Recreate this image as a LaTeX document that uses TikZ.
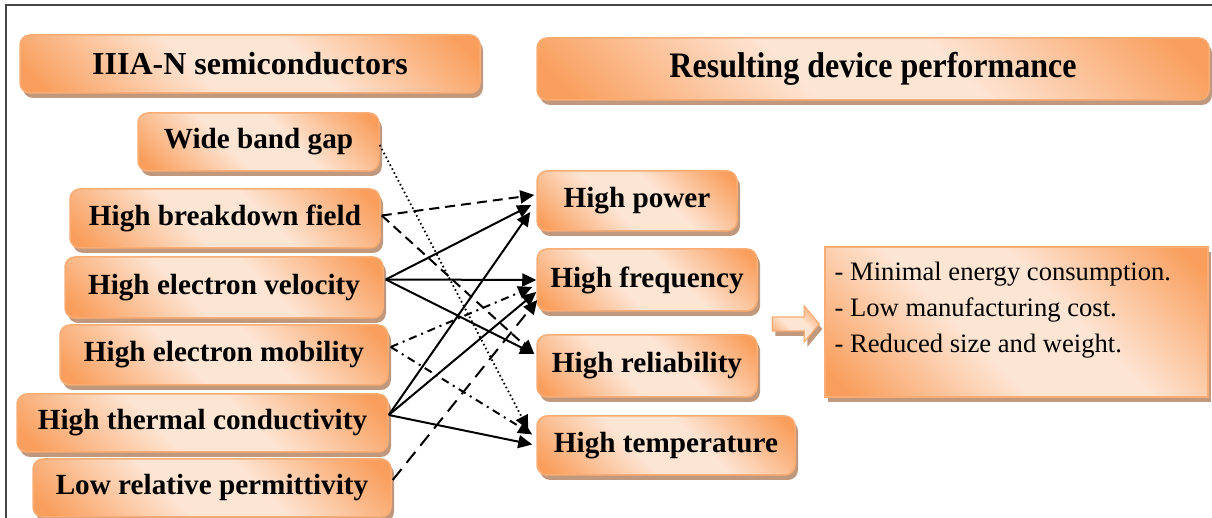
\documentclass[tikz,border=0pt]{standalone}
\usepackage{fontspec}
\setmainfont{Liberation Serif}
\usetikzlibrary{arrows.meta,shadows,calc}

\definecolor{orng}{RGB}{249,158,92}
\definecolor{lite}{RGB}{253,229,212}
\definecolor{bordc}{RGB}{249,172,115}
\definecolor{shadc}{RGB}{192,152,125}
\definecolor{framec}{RGB}{70,70,70}

% diagonal peach gradient: orange corners, pale middle band
\pgfdeclarehorizontalshading{peach}{100bp}{color(0bp)=(orng); color(18bp)=(orng); color(42bp)=(lite); color(58bp)=(lite); color(82bp)=(orng); color(100bp)=(orng)}

\tikzset{
  peachfill/.style={shading=peach, shading angle=45, draw=bordc, line width=0.75pt,
    drop shadow={fill=shadc, opacity=1, shadow xshift=1.5pt, shadow yshift=-2.5pt}},
  box/.style={peachfill, rounded corners=5pt, inner sep=0pt, text=black,
    font=\bfseries\fontsize{14.6}{17}\selectfont},
  titlebox/.style={box, font=\bfseries\fontsize{16}{19}\selectfont},
  link/.style={line width=1pt, -{Triangle[length=7pt,width=6.5pt]}},
  lnsolid/.style={link},
  lndash/.style={link, dash pattern=on 5pt off 3pt},
  lndot/.style={link, line width=0.9pt, dash pattern=on 0.8pt off 1.4pt},
  lndashdot/.style={link, dash pattern=on 4pt off 2.5pt on 1pt off 2.5pt},
  lnlong/.style={link, dash pattern=on 7pt off 4pt},
}

\begin{document}
\begin{tikzpicture}[x=0.5pt, y=-0.5pt]
\useasboundingbox (0,0) rectangle (1212,518);

% frame
\draw[framec, line width=0.75pt] (1212,5) -- (6,5) -- (6,518);

% column headings
\node[titlebox, minimum width=230pt, minimum height=29pt] (t1) at (250,64) {IIIA-N semiconductors};
\node[titlebox, minimum width=336pt, minimum height=31pt] (t2) at (873,69) {\scalebox{1}[1.12]{Resulting device performance}};

% material properties
\node[box, minimum width=120.5pt, minimum height=29pt]   (wbg) at (258.5,142) {Wide band gap};
\node[box, minimum width=155pt,   minimum height=29.5pt] (hbf) at (225,218.5) {High breakdown field};
\node[box, minimum width=159pt,   minimum height=30.5pt] (hev) at (224,287.5) {High electron velocity};
\node[box, minimum width=164pt,   minimum height=30pt]   (hem) at (224,355)   {High electron mobility};
\node[box, minimum width=185.5pt, minimum height=29pt]   (htc) at (202.5,423) {High thermal conductivity};
\node[box, minimum width=179pt,   minimum height=29pt]   (lrp) at (212,488)   {Low relative permittivity};

% device performance
\node[box, minimum width=100pt, minimum height=30pt]   (hp) at (637,201)   {High power};
\node[box, minimum width=110pt, minimum height=31pt]   (hf) at (647,280)   {High frequency};
\node[box, minimum width=110pt, minimum height=31pt]   (hr) at (647,366)   {High reliability};
\node[box, minimum width=129pt, minimum height=29.5pt] (ht) at (666,445.5) {High temperature};

% outcome box
\node[peachfill, minimum width=191.5pt, minimum height=75pt, inner sep=0pt] (res) at (1016.5,322) {};
\node[anchor=north west, inner sep=0pt, align=left, font=\fontsize{13.3}{18}\selectfont] (restext)
  at ($(res.north west)+(10,15)$)
  {- Minimal energy consumption.\\- Low manufacturing cost.\\- Reduced size and weight.};

% block arrow into the outcome box
\coordinate (tipA) at ($(res.west)+(-5,2)$);
\path[peachfill, line width=0.6pt]
  (tipA) -- ++(-15,-18) -- ++(0,11) -- ++(-32,0) -- ++(0,14) -- ++(32,0) -- ++(0,11) -- cycle;

% connectors
\draw[lndot]     ($(wbg.east)+(0,3)$)  -- ($(ht.west)+(-8,-16)$);
\draw[lndash]    ($(hbf.east)+(1,-3)$) -- ($(hp.west)+(-2,-6)$);
\draw[lndash]    ($(hbf.east)+(1,-3)$) -- ($(hr.west)+(-2,-12)$);
\draw[lnsolid]   ($(hev.east)+(2,-8)$) -- ($(hp.west)+(-5,4)$);
\draw[lnsolid]   ($(hev.east)+(2,-8)$) -- ($(hf.west)+(0,0)$);
\draw[lnsolid]   ($(hev.east)+(2,-8)$) -- ($(hr.west)+(-2,-12)$);
\draw[lndashdot] ($(hem.east)+(2,-8)$) -- ($(hf.west)+(-4,7)$);
\draw[lndashdot] ($(hem.east)+(2,-8)$) -- ($(ht.west)+(-4,-11)$);
\draw[lnsolid]   ($(htc.east)+(0,-8)$) -- ($(hp.west)+(-6,11)$);
\draw[lnsolid]   ($(htc.east)+(0,-8)$) -- ($(hf.west)+(0,12)$);
\draw[lnsolid]   ($(htc.east)+(0,-8)$) -- ($(ht.west)+(-4,-1)$);
\draw[lnlong]    ($(lrp.east)+(1,-8)$) -- ($(hf.west)+(1,20)$);
\end{tikzpicture}
\end{document}
